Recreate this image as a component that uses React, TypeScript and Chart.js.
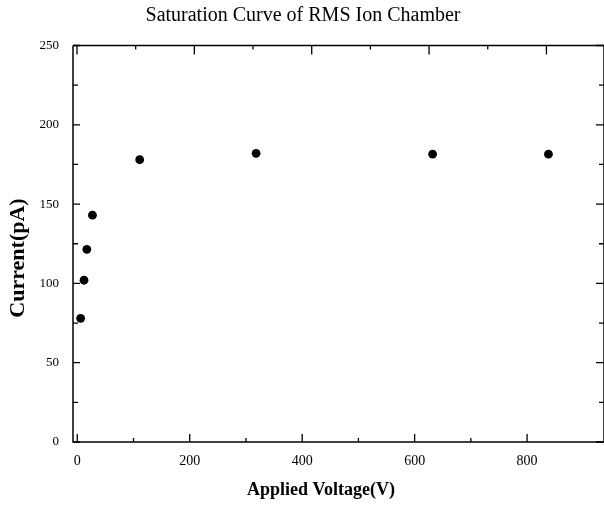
import React, { useEffect, useRef } from "react";
import { Chart, registerables } from "chart.js";

Chart.register(...registerables);

// ---- data (using the labelled bottom axis) ----
const voltage = [6, 12, 17, 27, 111, 318, 632, 838];
const current = [78, 102, 121.5, 143, 178, 182, 181.5, 181.5];

// ---- axis ticks / labels ----
const xTickValues = [0, 100, 200, 300, 400, 500, 600, 700, 800];
const xLabelValues = [0, 200, 400, 600, 800];
const yTickValues = [0, 25, 50, 75, 100, 125, 150, 175, 200, 225, 250];
const yLabelValues = [0, 50, 100, 150, 200, 250];

const chartTitle = "Saturation Curve of RMS Ion Chamber";
const xTitle = "Applied Voltage(V)";
const yTitle = "Current(pA)";

const SERIF = "'Liberation Serif', 'DejaVu Serif', serif";

const framePlugin = {
  id: "frameTicks",
  afterDatasetsDraw(chart: any) {
    const { ctx, chartArea, scales } = chart;
    const { left, right, top, bottom } = chartArea;
    ctx.save();
    ctx.strokeStyle = "#000";
    ctx.lineWidth = 1.5;
    ctx.beginPath();
    ctx.moveTo(left, top);
    ctx.lineTo(right, top);
    ctx.moveTo(left, top);
    ctx.lineTo(left, bottom);
    ctx.lineTo(right, bottom);
    ctx.moveTo(right, top);
    ctx.lineTo(right, bottom);
    ctx.stroke();

    ctx.lineWidth = 1.3;
    ctx.beginPath();
    for (const v of xTickValues) {
      const major = v % 200 === 0;
      const pb = scales.x.getPixelForValue(v);
      ctx.moveTo(pb, bottom);
      ctx.lineTo(pb, bottom - (major ? 8 : 4));
      const pt = scales.x2.getPixelForValue(v);
      ctx.moveTo(pt, top);
      ctx.lineTo(pt, top + (major ? 9 : 4));
    }
    for (const v of yTickValues) {
      const major = v % 50 === 0;
      const py = scales.y.getPixelForValue(v);
      ctx.moveTo(left, py);
      ctx.lineTo(left + (major ? 7 : 5), py);
      ctx.moveTo(right, py);
      ctx.lineTo(right - (major ? 8 : 5), py);
    }
    ctx.stroke();

    // axis titles
    ctx.fillStyle = "#000";
    ctx.textAlign = "center";
    ctx.textBaseline = "middle";
    ctx.font = `bold 18px ${SERIF}`;
    ctx.fillText(xTitle, left + 248, 490);
    ctx.translate(18, 258);
    ctx.rotate(-Math.PI / 2);
    ctx.font = `bold 22px ${SERIF}`;
    ctx.fillText(yTitle, 0, 0);
    ctx.restore();
  },
};

export default function App() {
  const canvasRef = useRef<HTMLCanvasElement | null>(null);

  useEffect(() => {
    if (!canvasRef.current) return;
    const chart = new Chart(canvasRef.current, {
      type: "scatter",
      data: {
        datasets: [
          {
            label: "Current",
            data: voltage.map((v, i) => ({ x: v, y: current[i] })),
            backgroundColor: "#000",
            borderColor: "#000",
            borderWidth: 0,
            pointRadius: 4.4,
            showLine: false,
          },
        ],
      },
      options: {
        responsive: false,
        animation: false,
        devicePixelRatio: 1,
        layout: { autoPadding: false, padding: { left: 0, right: -2, top: 0, bottom: 0 } },
        plugins: {
          legend: { display: false },
          tooltip: { enabled: false },
          title: {
            display: true,
            text: chartTitle,
            color: "#000",
            font: { family: SERIF, size: 20, weight: "normal" },
            padding: { top: 4, bottom: 17.5 },
          },
        },
        scales: {
          x: {
            type: "linear",
            position: "bottom",
            min: -7.6,
            max: 936.8,
            grid: { display: false, drawTicks: false },
            border: { display: false },
            afterFit: (s: any) => {
              s.height = 63;
              s.paddingLeft = 0;
              s.paddingRight = 0;
            },
            ticks: {
              stepSize: 100,
              includeBounds: false,
              autoSkip: false,
              maxRotation: 0,
              padding: 11,
              color: "#000",
              font: { family: SERIF, size: 14 },
              callback: (v: any) => (xLabelValues.includes(Number(v)) ? String(v) : ""),
            },
          },
          x2: {
            type: "linear",
            position: "top",
            display: false,
            min: -6.8,
            max: 898.1,
          },
          y: {
            type: "linear",
            position: "left",
            min: 0,
            max: 250,
            grid: { display: false, drawTicks: false },
            border: { display: false },
            afterFit: (s: any) => {
              s.width = 73;
              s.paddingTop = 0;
              s.paddingBottom = 0;
            },
            ticks: {
              stepSize: 25,
              includeBounds: false,
              autoSkip: false,
              padding: 14,
              color: "#000",
              font: { family: SERIF, size: 13 },
              callback: (v: any) => (yLabelValues.includes(Number(v)) ? String(v) : ""),
            },
          },
        },
      },
      plugins: [framePlugin],
    });
    return () => chart.destroy();
  }, []);

  return (
    <div style={{ position: "fixed", left: 0, top: 0, width: 604, height: 505, background: "#fff" }}>
      <canvas ref={canvasRef} width={604} height={505} />
    </div>
  );
}
